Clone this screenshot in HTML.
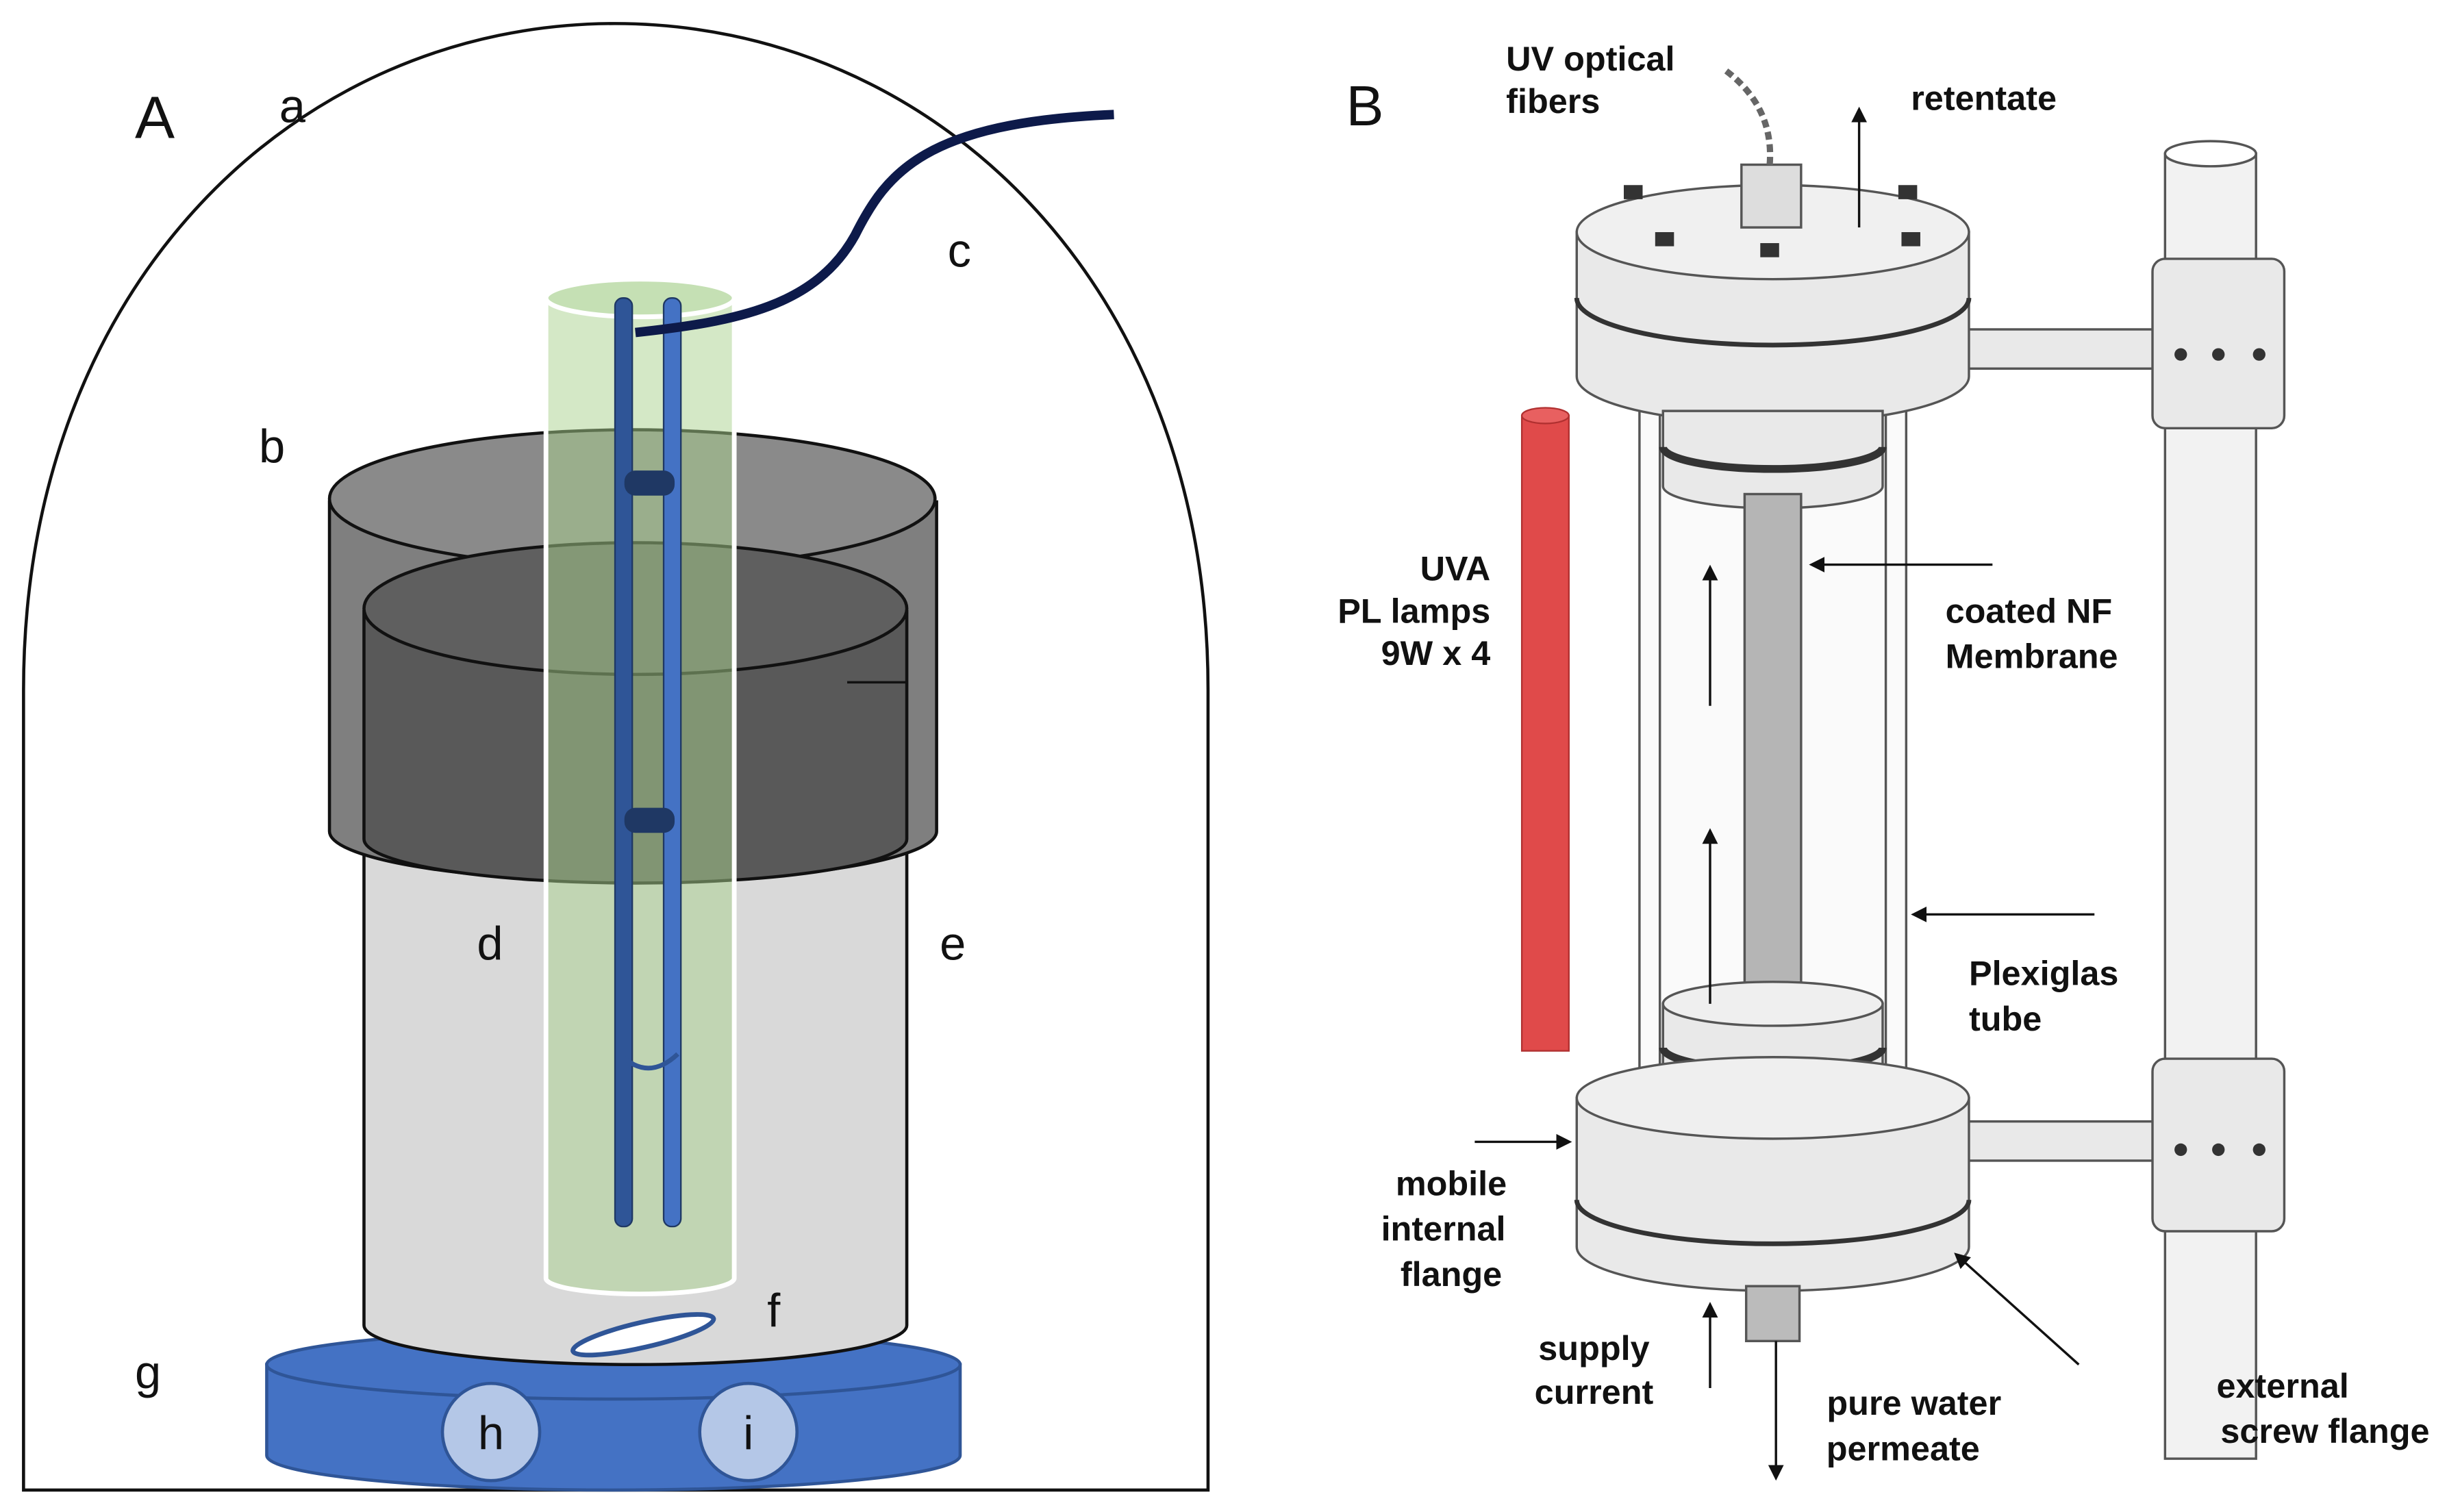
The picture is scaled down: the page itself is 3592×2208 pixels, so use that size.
<!DOCTYPE html>
<html><head><meta charset="utf-8"><style>html,body{margin:0;padding:0;background:#fff}svg{display:block}</style></head>
<body>
<svg width="3592" height="2208" viewBox="0 0 1568 964" preserveAspectRatio="none" xmlns="http://www.w3.org/2000/svg">
<defs>
<marker id="ah" markerWidth="10" markerHeight="10" refX="8" refY="5" orient="auto" markerUnits="userSpaceOnUse"><path d="M0,0 L10,5 L0,10 Z" fill="#111"/></marker>
</defs>
<rect width="1568" height="964" fill="#fff"/>
<!-- Panel A -->
<path d="M15,950 L15,440 C15,180 190,15 392,15 C594,15 770,180 770,440 L770,950 Z" fill="#fff" stroke="#111" stroke-width="2"/>
<!-- base -->
<path d="M170,870 L170,928 A221,22 0 0 0 612,928 L612,870 Z" fill="#4472c4" stroke="#2f5597" stroke-width="2"/>
<ellipse cx="391" cy="870" rx="221" ry="22" fill="#4472c4" stroke="#2f5597" stroke-width="2"/>
<circle cx="313" cy="913" r="31" fill="#b4c7e7" stroke="#2f5597" stroke-width="2"/>
<circle cx="477" cy="913" r="31" fill="#b4c7e7" stroke="#2f5597" stroke-width="2"/>
<!-- lower gray cylinder -->
<path d="M232,390 L232,845 A173,25 0 0 0 578,845 L578,390 Z" fill="#d9d9d9" stroke="#111" stroke-width="2"/>
<!-- outer dark cap -->
<path d="M210,320 L210,530 A193,32 0 0 0 597,530 L597,320 Z" fill="#7f7f7f" stroke="#111" stroke-width="2"/>
<ellipse cx="403" cy="318" rx="193" ry="44" fill="#8a8a8a" stroke="#111" stroke-width="2"/>
<!-- inner darker -->
<path d="M232,390 L232,535 A173,28 0 0 0 578,535 L578,390 Z" fill="#595959" stroke="#111" stroke-width="2"/>
<ellipse cx="405" cy="388" rx="173" ry="42" fill="#5f5f5f" stroke="#111" stroke-width="2"/>
<line x1="540" y1="435" x2="578" y2="435" stroke="#111" stroke-width="1.5"/>
<!-- green tube -->
<path d="M348,190 L348,815 A60,10 0 0 0 468,815 L468,190 Z" fill="#a9d18e" fill-opacity="0.5" stroke="#fff" stroke-width="3"/>
<ellipse cx="408" cy="190" rx="60" ry="12" fill="#c5e0b4" stroke="#fff" stroke-width="3"/>
<!-- blue rods -->
<rect x="392" y="190" width="11" height="592" rx="5" fill="#2f5597" stroke="#1f3864"/>
<rect x="423" y="190" width="11" height="592" rx="5" fill="#4472c4" stroke="#1f3864"/>
<rect x="398" y="300" width="32" height="16" rx="7" fill="#1f3864"/>
<rect x="398" y="515" width="32" height="16" rx="7" fill="#1f3864"/>
<path d="M395,672 Q413,690 432,672" fill="none" stroke="#2f5597" stroke-width="3"/>
<!-- cable -->
<path d="M405,212 C470,205 520,195 545,150 C565,110 590,78 710,73" fill="none" stroke="#0d1a4a" stroke-width="6"/>
<!-- stir bar -->
<ellipse cx="410" cy="851" rx="46" ry="8" transform="rotate(-13 410 851)" fill="#fff" stroke="#2f5597" stroke-width="3"/>
<g font-family="Liberation Sans, sans-serif" font-size="30" fill="#111">
<text x="86" y="88" font-size="38">A</text>
<text x="178" y="78">a</text>
<text x="165" y="295">b</text>
<text x="604" y="170">c</text>
<text x="304" y="612">d</text>
<text x="599" y="612">e</text>
<text x="489" y="846">f</text>
<text x="86" y="885">g</text>
</g>
<g font-family="Liberation Sans, sans-serif" font-size="30" fill="#111" text-anchor="middle">
<text x="313" y="924">h</text><text x="477" y="924">i</text>
</g>
<!-- Panel B -->
<text x="858" y="80" font-family="Liberation Sans, sans-serif" font-size="36" fill="#111">B</text>
<g stroke="#555" stroke-width="1.5" fill="#e9e9e9">
<rect x="1380" y="98" width="58" height="832" fill="#f2f2f2"/>
<ellipse cx="1409" cy="98" rx="29" ry="8" fill="#fff"/>
<rect x="1250" y="210" width="125" height="25"/>
<rect x="1250" y="715" width="125" height="25"/>
<rect x="1372" y="165" width="84" height="108" rx="8"/>
<rect x="1372" y="675" width="84" height="110" rx="8"/>
<rect x="1045" y="240" width="170" height="460" fill="#fafafa"/>
<line x1="1058" y1="240" x2="1058" y2="700"/><line x1="1202" y1="240" x2="1202" y2="700"/>
<path d="M1005,148 L1005,240 A125,30 0 0 0 1255,240 L1255,148 Z"/>
<ellipse cx="1130" cy="148" rx="125" ry="30" fill="#f0f0f0"/>
<path d="M1005,190 A125,30 0 0 0 1255,190" fill="none" stroke="#333" stroke-width="3"/>
<path d="M1060,262 L1060,310 A70,14 0 0 0 1200,310 L1200,262 Z"/>
<path d="M1060,285 A70,14 0 0 0 1200,285" fill="none" stroke="#333" stroke-width="5"/>
<rect x="1112" y="315" width="36" height="325" fill="#b5b5b5"/>
<path d="M1060,640 L1060,680 A70,14 0 0 0 1200,680 L1200,640 Z"/>
<ellipse cx="1130" cy="640" rx="70" ry="14" fill="#efefef"/>
<path d="M1060,668 A70,14 0 0 0 1200,668" fill="none" stroke="#333" stroke-width="5"/>
<path d="M1005,700 L1005,795 A125,28 0 0 0 1255,795 L1255,700 Z"/>
<ellipse cx="1130" cy="700" rx="125" ry="26" fill="#efefef"/>
<path d="M1005,765 A125,28 0 0 0 1255,765" fill="none" stroke="#333" stroke-width="3"/>
<rect x="1113" y="820" width="34" height="35" fill="#bbb"/>
<rect x="1110" y="105" width="38" height="40" fill="#ddd"/>
</g>
<g fill="#333">
<rect x="1035" y="118" width="12" height="9"/><rect x="1055" y="148" width="12" height="9"/>
<rect x="1122" y="155" width="12" height="9"/><rect x="1210" y="118" width="12" height="9"/>
<rect x="1212" y="148" width="12" height="9"/>
<circle cx="1390" cy="226" r="4"/><circle cx="1414" cy="226" r="4"/><circle cx="1440" cy="226" r="4"/>
<circle cx="1390" cy="733" r="4"/><circle cx="1414" cy="733" r="4"/><circle cx="1440" cy="733" r="4"/>
</g>
<path d="M1128,105 C1130,80 1120,60 1100,45" fill="none" stroke="#666" stroke-width="4" stroke-dasharray="5,3"/>
<rect x="970" y="265" width="30" height="405" fill="#e04a4a" stroke="#b03030"/>
<ellipse cx="985" cy="265" rx="15" ry="5" fill="#e86060" stroke="#b03030"/>
<g stroke="#111" stroke-width="1.5" marker-end="url(#ah)" fill="none">
<line x1="1185" y1="145" x2="1185" y2="70"/>
<line x1="1090" y1="450" x2="1090" y2="362"/>
<line x1="1090" y1="640" x2="1090" y2="530"/>
<line x1="1270" y1="360" x2="1155" y2="360"/>
<line x1="1335" y1="583" x2="1220" y2="583"/>
<line x1="940" y1="728" x2="1000" y2="728"/>
<line x1="1090" y1="885" x2="1090" y2="832"/>
<line x1="1132" y1="855" x2="1132" y2="942"/>
<line x1="1325" y1="870" x2="1247" y2="800"/>
</g>
<g font-family="Liberation Sans, sans-serif" font-size="22" font-weight="bold" fill="#111">
<text x="960" y="45">UV optical</text><text x="960" y="72">fibers</text>
<text x="1218" y="70">retentate</text>
<g text-anchor="end"><text x="950" y="370">UVA</text><text x="950" y="397">PL lamps</text><text x="950" y="424">9W x 4</text></g>
<text x="1240" y="397">coated NF</text><text x="1240" y="426">Membrane</text>
<text x="1255" y="628">Plexiglas</text><text x="1255" y="657">tube</text>
<g text-anchor="middle">
<text x="925" y="762">mobile</text><text x="920" y="791">internal</text><text x="925" y="820">flange</text>
<text x="1016" y="867">supply</text><text x="1016" y="895">current</text>
<text x="1220" y="902">pure water</text><text x="1213" y="931">permeate</text>
<text x="1455" y="891">external</text><text x="1482" y="920">screw flange</text>
</g>
</g>
</svg>
</body></html>
